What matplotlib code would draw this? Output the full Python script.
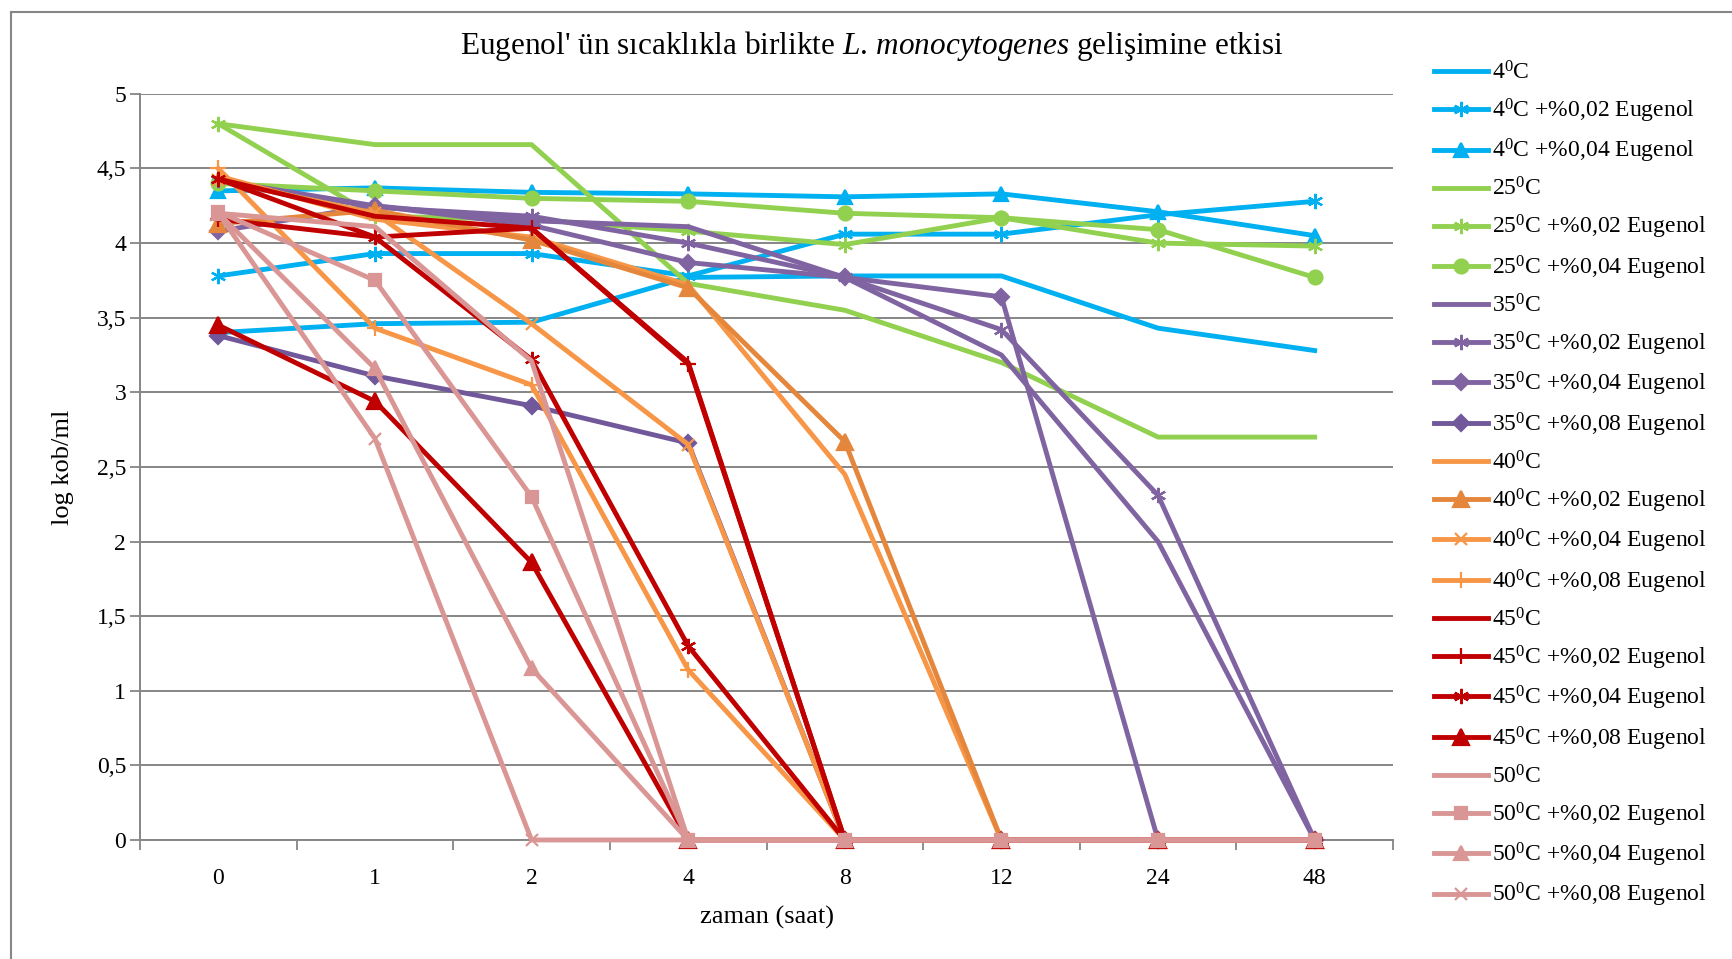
import matplotlib
matplotlib.use('Agg')
import matplotlib.pyplot as plt
from matplotlib.ticker import FuncFormatter, FixedLocator
from matplotlib.lines import Line2D

plt.rcParams['font.family'] = ['Liberation Serif', 'DejaVu Serif']
plt.rcParams['mathtext.fontset'] = 'custom'
plt.rcParams['mathtext.rm'] = 'Liberation Serif'
plt.rcParams['mathtext.it'] = 'Liberation Serif:italic'
plt.rcParams['mathtext.default'] = 'rm'

# zaman (saat)
saat = ['0', '1', '2', '4', '8', '12', '24', '48']

# log kob/ml degerleri
c4 = [3.40, 3.46, 3.47, 3.77, 3.78, 3.78, 3.43, 3.28]
c4_002 = [3.78, 3.93, 3.93, 3.78, 4.06, 4.06, 4.19, 4.28]
c4_004 = [4.35, 4.37, 4.34, 4.33, 4.31, 4.33, 4.21, 4.05]
c25 = [4.80, 4.66, 4.66, 3.73, 3.55, 3.20, 2.70, 2.70]
c25_002 = [4.80, 4.18, 4.16, 4.08, 3.99, 4.17, 4.00, 3.98]
c25_004 = [4.40, 4.35, 4.30, 4.28, 4.20, 4.17, 4.09, 3.77]
c35 = [4.42, 4.25, 4.15, 4.11, 3.77, 3.25, 2.00, 0]
c35_002 = [4.42, 4.24, 4.18, 4.00, 3.77, 3.42, 2.31, 0]
c35_004 = [4.08, 4.25, 4.12, 3.87, 3.77, 3.64, 0, 0]
c35_008 = [3.38, 3.11, 2.91, 2.66, 0, 0, 0, 0]
c40 = [4.45, 4.16, 4.04, 3.72, 2.45, 0, 0, 0]
c40_002 = [4.13, 4.22, 4.02, 3.70, 2.67, 0, 0, 0]
c40_004 = [4.42, 4.20, 3.46, 2.65, 0, 0, 0, 0]
c40_008 = [4.50, 3.43, 3.05, 1.14, 0, 0, 0, 0]
c45 = [4.43, 4.18, 4.10, 3.20, 0, 0, 0, 0]
c45_002 = [4.16, 4.04, 4.10, 3.19, 0, 0, 0, 0]
c45_004 = [4.43, 4.04, 3.22, 1.30, 0, 0, 0, 0]
c45_008 = [3.45, 2.94, 1.86, 0, 0, 0, 0, 0]
c50 = [4.20, 4.11, 3.21, 0, 0, 0, 0, 0]
c50_002 = [4.21, 3.75, 2.30, 0, 0, 0, 0, 0]
c50_004 = [4.20, 3.16, 1.15, 0, 0, 0, 0, 0]
c50_008 = [4.20, 2.69, 0, 0, 0, 0, 0, 0]

mavi = '#00B0F0'
yesil = '#92D050'
mor = '#8064A2'
mor2 = '#71589A'
turuncu = '#F79646'
turuncu2 = '#E4873C'
kirmizi = '#C00000'
pembe = '#D99694'
ast = (6, 2, 0)

seriler = [
    ('4$^0$C', c4, mavi, None, 10),
    ('4$^0$C +%0,02 Eugenol', c4_002, mavi, ast, 11),
    ('4$^0$C +%0,04 Eugenol', c4_004, mavi, '^', 10),
    ('25$^0$C', c25, yesil, None, 10),
    ('25$^0$C +%0,02 Eugenol', c25_002, yesil, ast, 11),
    ('25$^0$C +%0,04 Eugenol', c25_004, yesil, 'o', 10),
    ('35$^0$C', c35, mor, None, 10),
    ('35$^0$C +%0,02 Eugenol', c35_002, mor, ast, 11),
    ('35$^0$C +%0,04 Eugenol', c35_004, mor, 'D', 8),
    ('35$^0$C +%0,08 Eugenol', c35_008, mor2, 'D', 8),
    ('40$^0$C', c40, turuncu, None, 10),
    ('40$^0$C +%0,02 Eugenol', c40_002, turuncu2, '^', 11),
    ('40$^0$C +%0,04 Eugenol', c40_004, turuncu, 'x', 9),
    ('40$^0$C +%0,08 Eugenol', c40_008, turuncu, '+', 11),
    ('45$^0$C', c45, kirmizi, None, 10),
    ('45$^0$C +%0,02 Eugenol', c45_002, kirmizi, '+', 11),
    ('45$^0$C +%0,04 Eugenol', c45_004, kirmizi, ast, 11),
    ('45$^0$C +%0,08 Eugenol', c45_008, kirmizi, '^', 11),
    ('50$^0$C', c50, pembe, None, 10),
    ('50$^0$C +%0,02 Eugenol', c50_002, pembe, 's', 9),
    ('50$^0$C +%0,04 Eugenol', c50_004, pembe, '^', 10),
    ('50$^0$C +%0,08 Eugenol', c50_008, pembe, 'x', 9),
]

fig = plt.figure(figsize=(17.33, 9.59), dpi=100)
ax = fig.add_axes([0.0808, 0.1241, 0.723, 0.778])

x = list(range(len(saat)))
for ad, y, renk, isaret, ms in seriler:
    ax.plot(x, y, color=renk, linewidth=3.5, marker=isaret, markersize=ms,
            markeredgewidth=1.6, label=ad, clip_on=False, zorder=3)

ax.set_xlim(-0.5, 7.5)
ax.set_ylim(0, 5)
ax.set_yticks([i * 0.5 for i in range(11)])
ax.yaxis.set_major_formatter(FuncFormatter(lambda v, p: format(v, 'g').replace('.', ',')))
ax.set_xticks(x)
ax.set_xticklabels(saat)
ax.xaxis.set_minor_locator(FixedLocator([i - 0.5 for i in range(9)]))
ax.tick_params(axis='x', which='major', length=0, labelsize=17, pad=20)
ax.tick_params(axis='x', which='minor', length=7, width=1.3, color='#868686', direction='out')
ax.tick_params(axis='y', length=7, width=1.3, color='#868686', direction='out', labelsize=17, pad=3)
ax.grid(axis='y', color='#868686', linewidth=1.4, zorder=0)
ax.set_axisbelow(True)
for s in ['top', 'right']:
    ax.spines[s].set_visible(False)
for s in ['left', 'bottom']:
    ax.spines[s].set_color('#868686')
    ax.spines[s].set_linewidth(1.4)

ax.set_xlabel('zaman (saat)', fontsize=19, labelpad=12)
ax.set_ylabel('log kob/ml', fontsize=19, labelpad=16)

fig.text(0.503, 0.952,
         r"Eugenol' ün sıcaklıkla birlikte $\mathit{L.\,monocytogenes}$ gelişimine etkisi",
         ha='center', va='center', fontsize=22.5)

fig.legend(loc='upper left', bbox_to_anchor=(0.822, 0.946), frameon=False, fontsize=17,
           handlelength=2.3, handletextpad=0.15, labelspacing=0.52, borderaxespad=0)

# cerceve
fig.add_artist(Line2D([0.0063, 0.0063], [0, 0.9875], color='#868686', linewidth=1.5))
fig.add_artist(Line2D([0.0063, 1.0], [0.9875, 0.9875], color='#868686', linewidth=1.5))

fig.savefig('out.png', dpi=100)
